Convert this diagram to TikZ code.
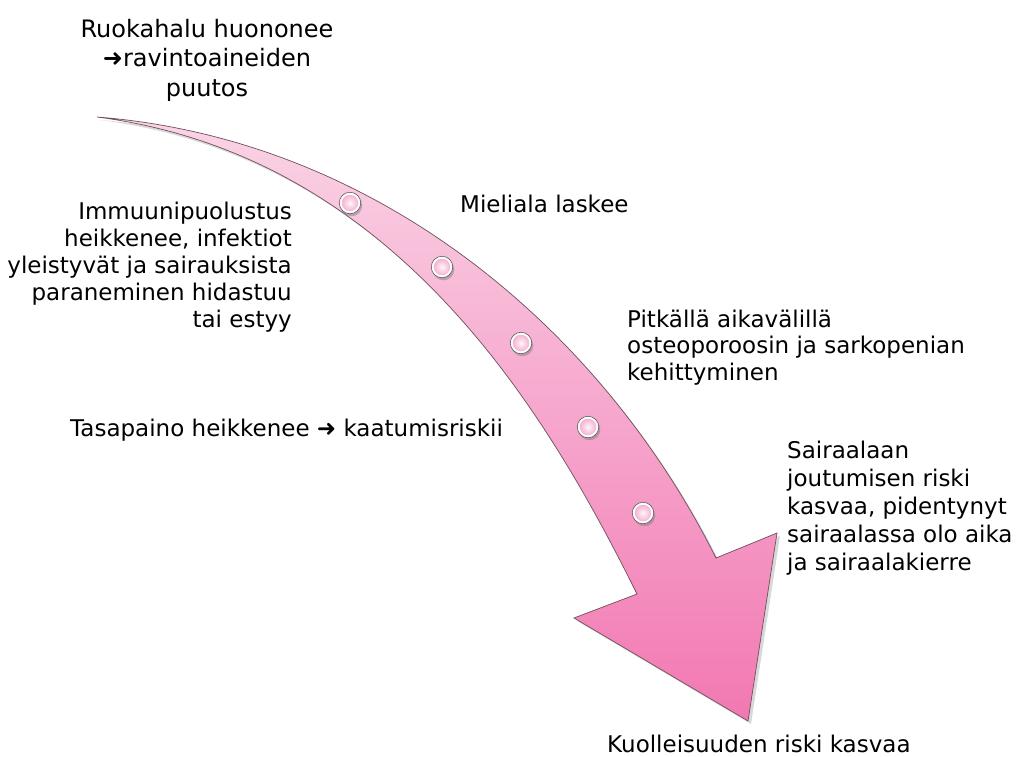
\documentclass[tikz,border=0pt]{standalone}
\usepackage{fontspec}
\setmainfont{DejaVu Sans}
\usetikzlibrary{shadows}
\definecolor{arrowline}{RGB}{110,80,92}
\definecolor{pinktop}{RGB}{250,212,230}
\definecolor{pinkmid}{RGB}{246,170,206}
\definecolor{pinkbot}{RGB}{242,120,178}
\definecolor{dotin}{RGB}{255,245,250}
\definecolor{dotout}{RGB}{245,178,210}
\definecolor{dotring}{RGB}{90,90,90}
\begin{document}
\begin{tikzpicture}[x=1pt,y=-1pt,
  lbl/.style={inner sep=0pt, font=\fontsize{23}{27}\selectfont, text=black},
  dotnode/.style={circle, inner sep=0pt, minimum size=21.5pt, draw=dotring, line width=0.6pt,
    fill=white, drop shadow={opacity=0.5, shadow xshift=1.5pt, shadow yshift=-2.5pt}},
  dotcore/.style={circle, inner sep=0pt, minimum size=16.5pt, inner color=dotin, outer color=dotout},
  bigarrow/.style={draw=arrowline, line width=0.7pt, top color=pinktop, middle color=pinkmid,
    bottom color=pinkbot, drop shadow={opacity=0.3, shadow xshift=3pt, shadow yshift=-3pt}}
]
\fill[white] (0,0) rectangle (1017,756);
\useasboundingbox (0,0) rectangle (1017,756);

% arrow outline points
\coordinate (T) at (97,117);
\coordinate (c1u) at (377,139);
\coordinate (c2u) at (601.5,329);
\coordinate (R) at (716,558);
\coordinate (RS) at (777,533);
\coordinate (Tip) at (748,721);
\coordinate (LS) at (574,618);
\coordinate (L) at (637,594);
\coordinate (c2l) at (548,415);
\coordinate (c1l) at (397,156);

\path[bigarrow] (T) .. controls (c1u) and (c2u) .. (R) -- (RS) -- (Tip) -- (LS) -- (L)
  .. controls (c2l) and (c1l) .. (T) -- cycle;

% dots along the arrow
\foreach \n/\p in {1/{(350,203)},2/{(442,267)},3/{(521,343)},4/{(588,427)},5/{(643,513)}}{
  \node[dotnode] (d\n) at \p {};
  \node[dotcore] (d\n c) at (d\n) {};
}

% labels
\node[lbl, anchor=north, align=center, font=\fontsize{24}{29.5}\selectfont] (top) at (207,19)
  {Ruokahalu huononee\\➜ravintoaineiden\\puutos};
\node[lbl, anchor=north east, align=right] (immu) at (292,201.5)
  {Immuunipuolustus\\heikkenee, infektiot\\yleistyvät ja sairauksista\\paraneminen hidastuu\\tai estyy};
\node[lbl, anchor=base west] (miel) at (460,212) {Mieliala laskee};
\node[lbl, anchor=north west, align=left, font=\fontsize{23}{26.5}\selectfont] (pitk) at (627,309.5)
  {Pitkällä aikavälillä\\osteoporoosin ja sarkopenian\\kehittyminen};
\node[lbl, anchor=base west] (tasa) at (70,436) {Tasapaino heikkenee ➜ kaatumisriskii};
\node[lbl, anchor=north west, align=left, font=\fontsize{23}{28}\selectfont] (sair) at (787,440.5)
  {Sairaalaan\\joutumisen riski\\kasvaa, pidentynyt\\sairaalassa olo aika\\ja sairaalakierre};
\node[lbl, anchor=base west] (kuol) at (607,752) {Kuolleisuuden riski kasvaa};
\end{tikzpicture}
\end{document}
